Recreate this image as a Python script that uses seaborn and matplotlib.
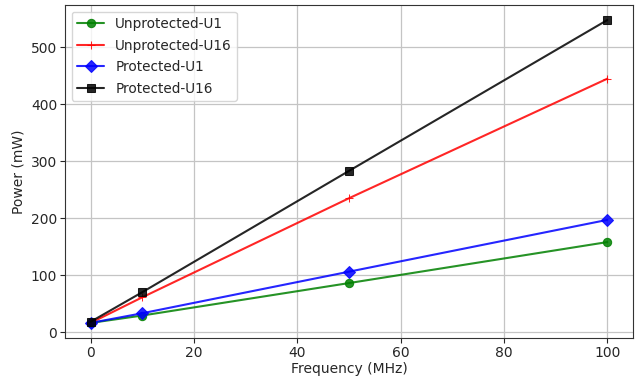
import matplotlib
matplotlib.use("Agg")
import matplotlib.pyplot as plt
import seaborn as sns
import pandas as pd

freq = [0, 10, 50, 100]
unprot_u1 = [16, 29, 86, 158]
unprot_u16 = [16, 61, 235, 445]
prot_u1 = [16, 33, 106, 197]
prot_u16 = [18, 70, 283, 548]

series = [
    ("Unprotected-U1", unprot_u1, "green", "o"),
    ("Unprotected-U16", unprot_u16, "red", "+"),
    ("Protected-U1", prot_u1, "blue", "D"),
    ("Protected-U16", prot_u16, "black", "s"),
]

sns.set_style("ticks")
plt.rcParams['font.family'] = ['DejaVu Sans']
fig, ax = plt.subplots(figsize=(6.35, 3.79), dpi=100)
for name, vals, color, marker in series:
    df = pd.DataFrame({"f": freq, "p": vals})
    sns.lineplot(data=df, x="f", y="p", ax=ax, color=color, marker=marker,
                 markersize=6, alpha=0.85, label=name,
                 markeredgecolor=color, linewidth=1.5)

ax.grid(True, color="#c4c4c4", linewidth=0.9)
ax.set_xlabel("Frequency (MHz)", fontsize=10, labelpad=2)
ax.set_ylabel("Power (mW)", fontsize=10, labelpad=4)
ax.tick_params(labelsize=10, length=3.5, pad=2)
for s in ax.spines.values():
    s.set_color("#333333")
ax.legend(loc="upper left", fontsize=9.8, frameon=True, labelspacing=0.55)
fig.subplots_adjust(left=0.102, right=0.997, top=0.987, bottom=0.108)
fig.savefig("out.png", dpi=100)
